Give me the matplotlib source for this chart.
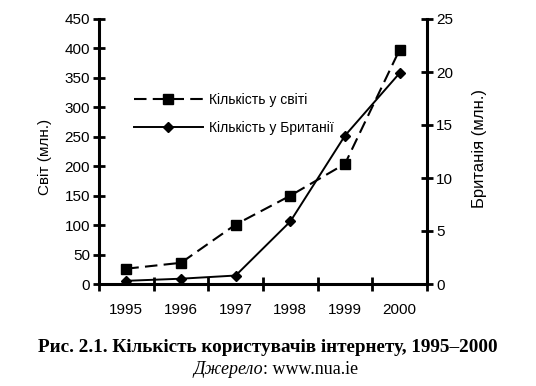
import matplotlib.pyplot as plt

years = ["1995", "1996", "1997", "1998", "1999", "2000"]
world_users = [26, 36, 101, 150, 204, 398]      # млн., ліва вісь
uk_users = [0.3, 0.5, 0.8, 5.9, 14.0, 19.9]     # млн., права вісь
world_ticks = [0, 50, 100, 150, 200, 250, 300, 350, 400, 450]
uk_ticks = [0, 5, 10, 15, 20, 25]

plt.rcParams["font.family"] = ["Liberation Sans", "DejaVu Sans"]

W, H = 536, 386
fig = plt.figure(figsize=(W / 100, H / 100), dpi=100)
ax = fig.add_axes([99 / W, 1 - 284 / H, (427 - 99) / W, (284 - 19) / H])
ax2 = ax.twinx()

x = list(range(len(years)))
l1, = ax.plot(x, world_users, color="black", lw=1.5, dashes=(6, 3),
              marker="s", ms=7, label="Кількість у світі")
l2, = ax2.plot(x, uk_users, color="black", lw=1.4,
               marker="D", ms=5.5, label="Кількість у Британії")

ax.set_xlim(-0.5, len(years) - 0.5)
ax.set_ylim(0, 450)
ax2.set_ylim(0, 25)
ax.set_yticks(world_ticks)
ax2.set_yticks(uk_ticks)
ax.set_xticks(x)
ax.set_xticklabels(years)
ax.set_xticks([i - 0.5 for i in range(len(years) + 1)], minor=True)

for a in (ax, ax2):
    for s in a.spines.values():
        s.set_visible(False)
    a.tick_params(axis="y", direction="inout", length=9, width=2,
                  labelsize=11, pad=2)
ax.spines["left"].set_visible(True)
ax.spines["bottom"].set_visible(True)
ax2.spines["right"].set_visible(True)
for s in (ax.spines["left"], ax.spines["bottom"], ax2.spines["right"]):
    s.set_linewidth(2.2)

ax.tick_params(axis="x", which="major", length=0, labelsize=11, pad=14)
ax.tick_params(axis="x", which="minor", direction="inout", length=10, width=2)

ax.set_ylabel("Світ (млн.)", fontsize=11, va="center")
ax.yaxis.set_label_coords(-0.165, 0.48)
ax2.set_ylabel("Британія (млн.)", fontsize=12, rotation=90, va="center")
ax2.yaxis.set_label_coords(1.16, 0.513)

fig.legend([l1, l2], [l1.get_label(), l2.get_label()],
           loc="center left", bbox_to_anchor=(128 / W, 1 - 114 / H),
           frameon=False, fontsize=10, handlelength=5.0, handletextpad=0.4,
           labelspacing=1.0, borderaxespad=0)

fig.text(0.5, 1 - 347 / H, "Рис. 2.1. Кількість користувачів інтернету, 1995–2000",
         family="Liberation Serif", weight="bold", fontsize=13.8,
         ha="center", va="center")
fig.text(263 / W, 1 - 370 / H, "Джерело", family="Liberation Serif",
         style="italic", fontsize=13, ha="right", va="center")
fig.text(263 / W, 1 - 370 / H, ": www.nua.ie", family="Liberation Serif",
         fontsize=13, ha="left", va="center")

fig.savefig("out.png", dpi=100)
